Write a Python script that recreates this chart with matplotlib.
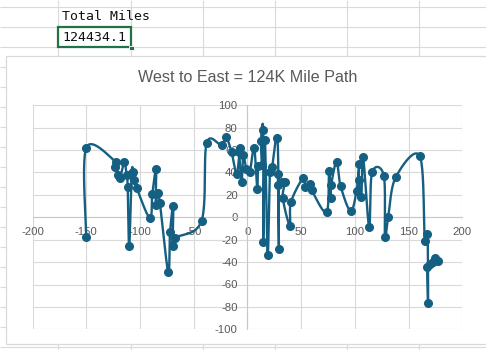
import numpy as np
import matplotlib
matplotlib.use('Agg')
import matplotlib.pyplot as plt
from matplotlib.patches import Rectangle

# stops along the path, west to east (longitude, latitude)
lon = [-150, -150, -122.6, -123, -120, -118.6, -114.6, -112.4, -111.4, -110,
       -107.7, -106.2, -105.3, -103, -90.7, -88.5, -85, -85.4, -83.5, -81.4,
       -73.7, -72, -69, -69.6, -67.4, -42.6, -38, -24, -20, -14.7,
       -10, -7, -7.6, -5.4, -3.9, -1, 2.3, 6.3, 9.1, 10,
       13.2, 12.6, 14.7, 14.7, 16.3, 18.8, 21, 23, 28, 29.3,
       28.7, 28.7, 31.8, 34.9, 33, 39.5, 40.5, 52, 54, 58,
       59.7, 73.7, 76, 77.7, 78, 83, 86.7, 96, 101.6, 104,
       103.7, 106, 107.7, 113.3, 116, 127, 128, 131, 138, 160.5,
       165, 167.6, 168.2, 167.5, 170, 172.5, 174.4, 177.5]
lat = [-18, 62, 49.6, 45, 37.8, 34.8, 49, 37.8, 27.3, -26,
       39.3, 40.7, 33.3, 26, -1, 20.8, 42.8, 11, 22, 12.5,
       -49, -13.4, 10.4, -26, -18.5, -3, 66, 64.5, 72, 58,
       39, 62, 58, 31.8, 55.6, 43, 40.7, 62, 25, 46,
       47, 68, 78, -22, 69, -34, 40.7, 45, 70.5, -28,
       38.4, 29, 31.2, 31.2, 17, -7.5, 13.4, 35.4, 26.8, 29.7,
       24.4, 4.5, 41.3, 17.5, 29, 49.6, 28, 5.6, 23.8, 47.3,
       33.3, 18.4, 53.6, -8.4, 40, 37, -17.3, 0, 35.7, 54.5,
       -21, -15, -76.8, -44, -42, -40, -36.6, -39]

x_ticks = list(range(-200, 201, 50))
y_ticks = list(range(-100, 101, 20))
title = "West to East = 124K Mile Path"
cell_label = "Total Miles"
cell_value = "124434.1"

line_color = '#156082'
text_gray = '#595959'

plt.rcParams['axes.unicode_minus'] = False


def smooth(xs, ys, n=24):
    # excel-like smoothed line: bezier through the points (catmull-rom tangents)
    pts = np.column_stack([xs, ys]).astype(float)
    p = np.vstack([pts[0], pts, pts[-1]])
    t = np.linspace(0, 1, n)[:, None]
    out = []
    for i in range(1, len(p) - 2):
        p0, p1, p2, p3 = p[i - 1], p[i], p[i + 1], p[i + 2]
        b1 = p1 + (p2 - p0) / 6
        b2 = p2 - (p3 - p1) / 6
        out.append((1 - t) ** 3 * p1 + 3 * (1 - t) ** 2 * t * b1
                   + 3 * (1 - t) * t ** 2 * b2 + t ** 3 * p2)
    c = np.vstack(out)
    return c[:, 0], c[:, 1]


fig = plt.figure(figsize=(4.86, 3.5), dpi=100)

# spreadsheet behind the chart (pixel coords)
bg = fig.add_axes([0, 0, 1, 1])
bg.set_xlim(0, 486)
bg.set_ylim(350, 0)
bg.axis('off')
bg.hlines(np.arange(6.7, 350, 20), 0, 486, color='#dadada', lw=0.8)
bg.vlines([58, 130.5, 203, 275, 346.5, 418.5], 0, 350, color='#dadada', lw=0.8)
bg.text(62, 17, cell_label, family='DejaVu Sans Mono', fontsize=9.5,
        va='center', ha='left', color='#111111')
bg.text(62, 37.5, cell_value, family='DejaVu Sans Mono', fontsize=9.5,
        va='center', ha='left', color='#111111')
bg.add_patch(Rectangle((58.3, 26.8), 72.5, 20.6, fill=False,
                       edgecolor='#217346', lw=1.6, zorder=3))
bg.add_patch(Rectangle((129, 45.5), 4.5, 4.5, facecolor='#217346',
                       edgecolor='white', lw=0.6, zorder=4))
bg.add_patch(Rectangle((6, 55.7), 490, 288.3, facecolor='white',
                       edgecolor='#d9d9d9', lw=0.9, zorder=2))

fig.text(247.5 / 486, 1 - 78 / 350, title, ha='center', va='center',
         family='Liberation Sans', fontsize=11.6, color=text_gray)

ax = fig.add_axes([32.5 / 486, 20.7 / 350, 429.8 / 486, 224 / 350])
ax.set_facecolor('none')
ax.set_xlim(-200, 200)
ax.set_ylim(-100, 100)
ax.set_xticks(x_ticks)
ax.set_yticks(y_ticks)
ax.grid(True, color='#d9d9d9', lw=0.8)
ax.set_axisbelow(True)
for s in ['top', 'right']:
    ax.spines[s].set_visible(False)
for s in ['left', 'bottom']:
    ax.spines[s].set_position(('data', 0))
    ax.spines[s].set_color('#c8c8c8')
    ax.spines[s].set_linewidth(0.8)
ax.tick_params(length=0, labelsize=8.2, labelcolor=text_gray)
ax.tick_params(axis='x', pad=7)
ax.tick_params(axis='y', pad=7)
for lab in ax.get_xticklabels() + ax.get_yticklabels():
    lab.set_family('Liberation Sans')

sx, sy = smooth(lon, lat)
ax.plot(sx, sy, color=line_color, lw=1.7, zorder=3, clip_on=False)
ax.plot(lon, lat, 'o', color=line_color, ms=5.5, zorder=4, clip_on=False)

fig.savefig('out.png', dpi=100)
